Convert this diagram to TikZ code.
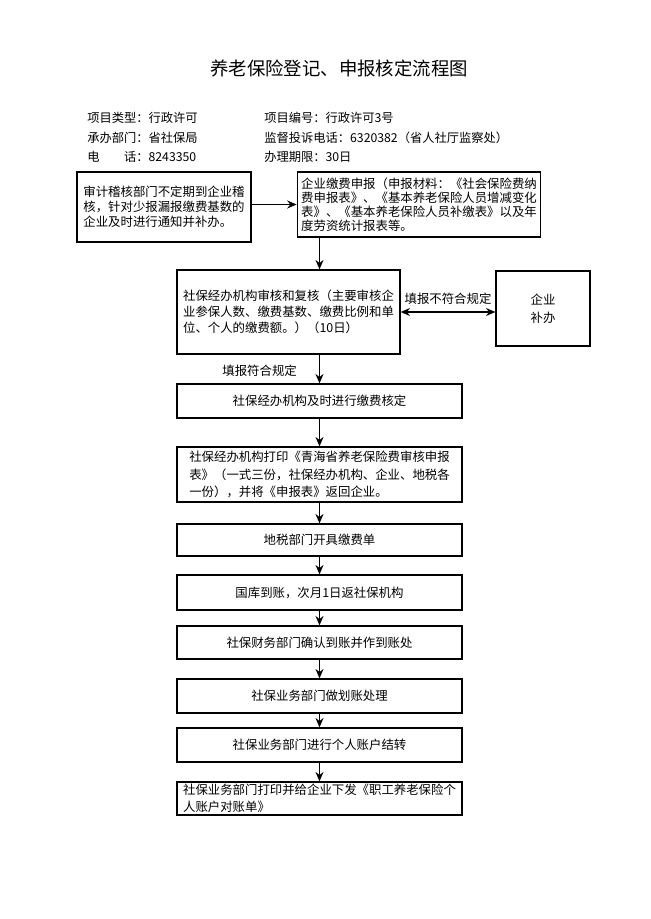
\documentclass[tikz,border=0pt]{standalone}
\usepackage{fontspec}
\setmainfont{Noto Sans CJK SC}
\usetikzlibrary{arrows.meta}
\tikzstyle{box} = [draw,line width=1pt,align=left,inner xsep=3pt,inner ysep=1pt,font=\fontsize{9.3}{12}\selectfont]
\tikzstyle{mainbox} = [box,minimum width=213.75pt]
\tikzstyle{flow} = [line width=1pt,-{Stealth[length=7pt,width=6pt]}]
\tikzstyle{info} = [anchor=west,inner sep=0pt,font=\fontsize{9.2}{11}\selectfont]

\begin{document}
\begin{tikzpicture}[x=0.75pt,y=-0.75pt]
	\useasboundingbox[fill=white] (0,0) rectangle (650,919);
	% title and item data
	\node[font=\fontsize{13.8}{16}\selectfont] (title) at (339,68) {养老保险登记、申报核定流程图};
	\node[info] (kind) at (87,118) {项目类型：行政许可};
	\node[info] (dept) at (87,138) {承办部门：省社保局};
	\node[info] (phone) at (87,157) {电\hspace{2em}话：8243350};
	\node[info] (number) at (264,118) {项目编号：行政许可3号};
	\node[info] (complain) at (264,138) {监督投诉电话：6320382（省人社厅监察处）};
	\node[info] (limit) at (264,157) {办理期限：30日};
	% boxes
	\node[box,minimum width=130.5pt,minimum height=52.5pt,font=\fontsize{9.3}{11.3}\selectfont] (audit) at (164,207)
		{审计稽核部门不定期到企业稽\\核，针对少报漏报缴费基数的\\企业及时进行通知并补办。};
	\node[box,minimum width=181.5pt,minimum height=48.75pt,font=\fontsize{9.3}{10.6}\selectfont] (apply) at (419,204.5)
		{企业缴费申报（申报材料：《社会保险费纳\\费申报表》、《基本养老保险人员增减变化\\表》、《基本养老保险人员补缴表》以及年\\度劳资统计报表等。};
	\node[box,minimum width=167.25pt,minimum height=63pt] (review) at (288.5,312)
		{社保经办机构审核和复核（主要审核企\\业参保人数、缴费基数、缴费比例和单\\位、个人的缴费额。）（10日）};
	\node[box,align=center,minimum width=70.5pt,minimum height=56.25pt,font=\fontsize{9.3}{13.5}\selectfont] (supp) at (543,308.5)
		{企业\\补办};
	\node[mainbox,minimum height=25.5pt] (fix) at (319.5,401) {社保经办机构及时进行缴费核定};
	\node[mainbox,minimum height=41.25pt,font=\fontsize{9.3}{13}\selectfont] (print) at (319.5,474.5)
		{社保经办机构打印《青海省养老保险费审核申报\\表》（一式三份，社保经办机构、企业、地税各\\一份），并将《申报表》返回企业。};
	\node[mainbox,minimum height=24pt] (tax) at (319.5,540) {地税部门开具缴费单};
	\node[mainbox,minimum height=26.25pt] (treasury) at (319.5,592.5) {国库到账，次月1日返社保机构};
	\node[mainbox,minimum height=24.75pt] (finance) at (319.5,642.5) {社保财务部门确认到账并作到账处};
	\node[mainbox,minimum height=25.5pt] (transfer) at (319.5,696) {社保业务部门做划账处理};
	\node[mainbox,minimum height=25.5pt] (carry) at (319.5,745) {社保业务部门进行个人账户结转};
	\node[mainbox,minimum height=24.75pt,inner ysep=0.5pt,font=\fontsize{9.3}{13}\selectfont] (statement) at (319.5,798.5)
		{社保业务部门打印并给企业下发《职工养老保险个\\人账户对账单》};
	% connectors
	\draw[flow] (audit.east |- apply.west) -- (apply.west);
	\draw[flow] (apply.south -| fix.north) -- (review.north -| fix.north);
	\draw[line width=1pt,{Stealth[length=7pt,width=6pt]}-{Stealth[length=7pt,width=6pt]}] (review.east) -- (review.east -| supp.west)
		node[midway,above,inner sep=0pt,yshift=5pt,font=\fontsize{9.3}{11}\selectfont] (nofit) {填报不符合规定};
	\draw[flow] (review.south -| fix.north) -- (fix.north)
		node[pos=0.55,left=16.5pt,inner sep=0pt,font=\fontsize{9.3}{11}\selectfont] (fit) {填报符合规定};
	\foreach \a/\b in {fix/print,print/tax,tax/treasury,treasury/finance,finance/transfer,transfer/carry,carry/statement}
		\draw[flow] (\a) -- (\b);
\end{tikzpicture}
\end{document}
